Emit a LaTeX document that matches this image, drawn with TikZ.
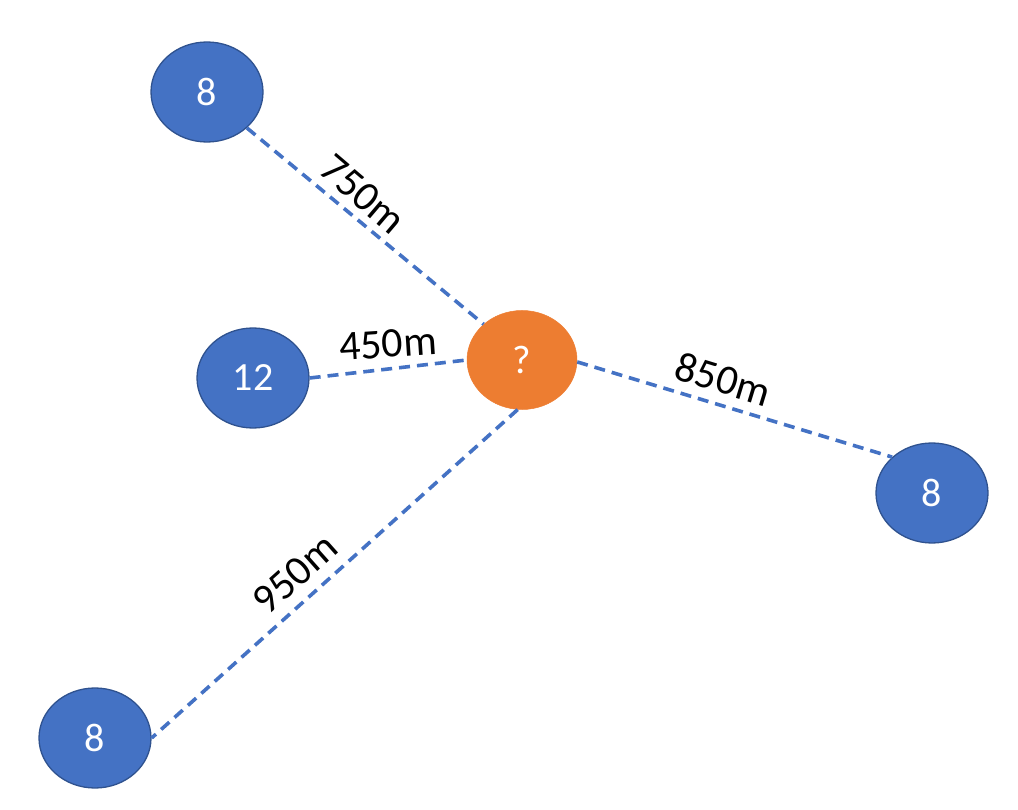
\documentclass[tikz,border=0pt]{standalone}
\usepackage{fontspec}
\setmainfont{Carlito}
\usetikzlibrary{shapes.geometric}
\definecolor{nblue}{HTML}{4472C4}
\definecolor{nborder}{HTML}{2F528F}
\definecolor{norange}{HTML}{ED7D31}
\begin{document}
\begin{tikzpicture}[x=1pt,y=-1pt,
  bnode/.style={ellipse,fill=nblue,draw=nborder,line width=1.3pt,minimum width=112pt,minimum height=100pt,inner sep=0pt,text=white,font=\fontsize{40}{46}\selectfont},
  onode/.style={ellipse,fill=norange,draw=norange,line width=0.5pt,minimum width=110pt,minimum height=99pt,inner sep=0pt,text=white,font=\fontsize{40}{46}\selectfont},
  link/.style={draw=nblue,line width=3.6pt,dash pattern=on 11pt off 7pt},
  lbl/.style={font=\fontsize{42}{48}\selectfont,text=black,inner sep=0pt}]
\useasboundingbox (0,0) rectangle (1018,810);
\node[onode] (q) at (522,360) {?};
\node[bnode] (a) at (207,92) {8};
\node[bnode] (b) at (253,378) {12};
\node[bnode] (c) at (932,493) {8};
\node[bnode] (d) at (95,738) {8};
\draw[link] (a.-42) -- (q.137);
\draw[link] (b.east) -- (q.west);
\draw[link] (q.-2) -- (c.138);
\draw[link] (q.265) -- (d.east);
\node[lbl,rotate=-40.4] (la) at (363,194) {750m};
\node[lbl,rotate=3.8] (lb) at (388,344) {450m};
\node[lbl,rotate=-17] (lc) at (723,379) {850m};
\node[lbl,rotate=41.7] (ld) at (295,574) {950m};
\end{tikzpicture}
\end{document}
